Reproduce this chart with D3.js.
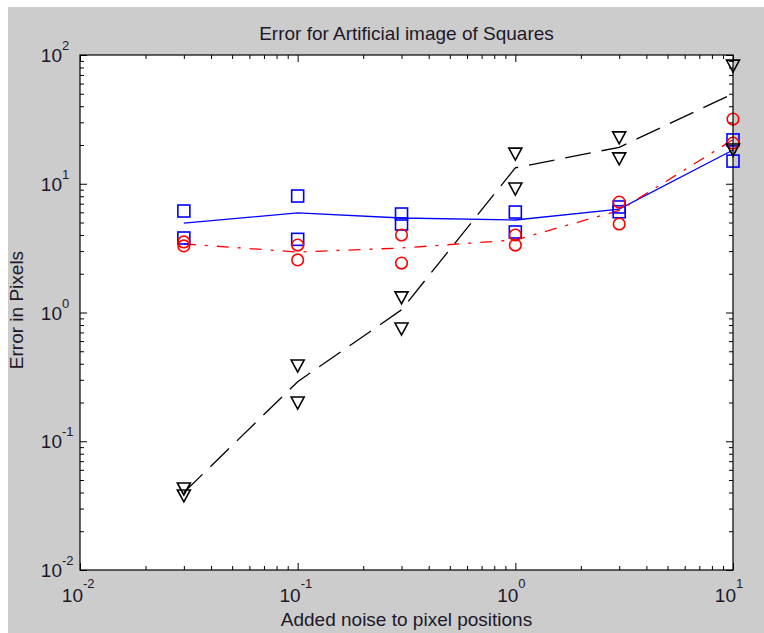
<!DOCTYPE html>
<html>
<head>
<meta charset="utf-8">
<script src="https://cdn.jsdelivr.net/npm/d3@7"></script>
<style>
  body { margin: 0; background: #fff; }
  text { font-family: "Liberation Sans", Arial, sans-serif; fill: #201828; }
</style>
</head>
<body>
<div id="chart"></div>
<script>
var svgWidth = 764;
var svgHeight = 633;
var margin = { top: 55, right: 31, bottom: 63, left: 80 };

// Data
var noise = [0.03, 0.1, 0.3, 1, 3, 10];

var squaresA = [6.14, 8.03, 5.82, 6.03, 6.6, 21.9];
var squaresB = [3.79, 3.7, 4.87, 4.22, 6.06, 15.0];
var squaresMean = [4.95, 5.93, 5.42, 5.23, 6.36, 18.3];

var circlesA = [3.53, 3.34, 4.0, 4.0, 7.2, 31.8];
var circlesB = [3.29, 2.56, 2.42, 3.34, 4.87, 20.7];
var circlesMean = [3.41, 2.95, 3.17, 3.66, 6.2, 22];

var trianglesA = [0.0426, 0.384, 1.30, 17.0, 22.7, 82];
var trianglesB = [0.0376, 0.198, 0.744, 9.1, 15.6, 18.3];
var trianglesMean = [0.04, 0.29, 1.05, 13.3, 19.2, 50];

var xTickExp = [-2, -1, 0, 1];
var yTickExp = [-2, -1, 0, 1, 2];

var width = svgWidth - margin.left - margin.right;
var height = svgHeight - margin.top - margin.bottom;

var svg = d3.select("#chart")
  .append("svg")
  .attr("width", svgWidth)
  .attr("height", svgHeight);

// gray figure background with the thin white edge at top/left
svg.append("rect")
  .attr("x", 8).attr("y", 7)
  .attr("width", svgWidth - 8).attr("height", svgHeight - 7)
  .attr("fill", "#cccccc");

var chartGroup = svg.append("g")
  .attr("transform", `translate(${margin.left}, ${margin.top})`);

chartGroup.append("rect")
  .attr("width", width).attr("height", height)
  .attr("fill", "#fff");

var xScale = d3.scaleLog().domain([0.01, 10]).range([0, width]);
var yScale = d3.scaleLog().domain([0.01, 100]).range([height, 0]);

// tick positions
function minorTicks(exps) {
  var out = [];
  exps.slice(0, -1).forEach(function(e) {
    for (var k = 2; k < 10; k++) out.push(k * Math.pow(10, e));
  });
  return out;
}
var xMajor = xTickExp.map(e => Math.pow(10, e));
var yMajor = yTickExp.map(e => Math.pow(10, e));
var xMinor = minorTicks(xTickExp);
var yMinor = minorTicks(yTickExp);

function addAxis(axis, values, size, transform) {
  var g = chartGroup.append("g")
    .attr("transform", transform)
    .call(axis.tickValues(values).tickSize(size).tickFormat(""));
  g.select(".domain").remove();
  g.selectAll("line").attr("stroke", "#000").attr("stroke-width", 1);
}

// ticks on all four sides, pointing in
addAxis(d3.axisBottom(xScale), xMajor, -7, `translate(0, ${height})`);
addAxis(d3.axisBottom(xScale), xMinor, -4, `translate(0, ${height})`);
addAxis(d3.axisTop(xScale), xMajor, -7, "translate(0, 0)");
addAxis(d3.axisTop(xScale), xMinor, -4, "translate(0, 0)");
addAxis(d3.axisLeft(yScale), yMajor, -7, "translate(0, 0)");
addAxis(d3.axisLeft(yScale), yMinor, -4, "translate(0, 0)");
addAxis(d3.axisRight(yScale), yMajor, -7, `translate(${width}, 0)`);
addAxis(d3.axisRight(yScale), yMinor, -4, `translate(${width}, 0)`);

// tick labels 10^e
xTickExp.forEach(function(e) {
  var x = xScale(Math.pow(10, e)) + 3;
  chartGroup.append("text")
    .attr("x", x).attr("y", height + 32)
    .attr("text-anchor", "end")
    .style("font-size", "19px")
    .text("10");
  chartGroup.append("text")
    .attr("x", x).attr("y", height + 18)
    .style("font-size", "13px")
    .text(e);
});
yTickExp.forEach(function(e) {
  var y = yScale(Math.pow(10, e));
  chartGroup.append("text")
    .attr("x", -18).attr("y", y + 7)
    .attr("text-anchor", "end")
    .style("font-size", "19px")
    .text("10");
  chartGroup.append("text")
    .attr("x", -18).attr("y", y - 5)
    .style("font-size", "13px")
    .text(e);
});

// mean lines
var series = [
  { a: squaresA, b: squaresB, mean: squaresMean, color: "#0000ff", dash: null, marker: "square" },
  { a: circlesA, b: circlesB, mean: circlesMean, color: "#ff0000", dash: "12,9,3,9", marker: "circle" },
  { a: trianglesA, b: trianglesB, mean: trianglesMean, color: "#000000", dash: "26,11", marker: "triangle" }
];

var line = d3.line()
  .x(d => xScale(d[0]))
  .y(d => yScale(d[1]));

var plot = chartGroup.append("g");

series.forEach(function(s) {
  plot.append("path")
    .datum(noise.map((n, i) => [n, s.mean[i]]))
    .attr("d", line)
    .attr("fill", "none")
    .attr("stroke", s.color)
    .attr("stroke-width", 1.3)
    .attr("stroke-dasharray", s.dash);
});

// markers
function drawMarker(g, type, cx, cy, color) {
  if (type === "square") {
    g.append("rect")
      .attr("x", cx - 6).attr("y", cy - 6)
      .attr("width", 12).attr("height", 12);
  } else if (type === "circle") {
    g.append("circle")
      .attr("cx", cx).attr("cy", cy).attr("r", 5.8);
  } else {
    g.append("path")
      .attr("d", `M${cx - 6.5},${cy - 6}L${cx + 6.5},${cy - 6}L${cx},${cy + 6}Z`);
  }
}

series.forEach(function(s) {
  var g = plot.append("g")
    .attr("fill", "none")
    .attr("stroke", s.color)
    .attr("stroke-width", 1.6);
  noise.forEach(function(n, i) {
    drawMarker(g, s.marker, xScale(n), yScale(s.a[i]), s.color);
    drawMarker(g, s.marker, xScale(n), yScale(s.b[i]), s.color);
  });
});

// box
chartGroup.append("rect")
  .attr("width", width).attr("height", height)
  .attr("fill", "none")
  .attr("stroke", "#000")
  .attr("stroke-width", 1.2);

// titles
svg.append("text")
  .attr("x", margin.left + width / 2)
  .attr("y", 40)
  .attr("text-anchor", "middle")
  .style("font-size", "19px")
  .text("Error for Artificial image of Squares");

svg.append("text")
  .attr("x", margin.left + width / 2)
  .attr("y", 626)
  .attr("text-anchor", "middle")
  .style("font-size", "19px")
  .text("Added noise to pixel positions");

svg.append("text")
  .attr("transform", "translate(23, 310) rotate(-90)")
  .attr("text-anchor", "middle")
  .style("font-size", "19px")
  .text("Error in Pixels");
</script>
</body>
</html>
